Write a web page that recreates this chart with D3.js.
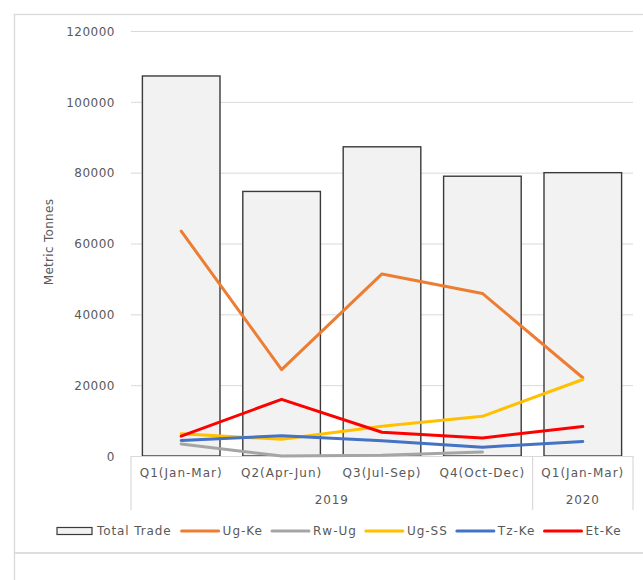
<!DOCTYPE html>
<html>
<head>
<meta charset="utf-8">
<script src="https://cdn.jsdelivr.net/npm/d3@7"></script>
<style>
  body { margin: 0; background: #fff; }
  svg { display: block; }
  text { font-family: "DejaVu Sans", sans-serif; fill: #595959; }
</style>
</head>
<body>
<svg id="chart" width="643" height="580"></svg>
<script>
// ---- data ----
const categories = ["Q1(Jan-Mar)", "Q2(Apr-Jun)", "Q3(Jul-Sep)", "Q4(Oct-Dec)", "Q1(Jan-Mar)"];
const years = ["2019", "2019", "2019", "2019", "2020"];
const yTicks = [0, 20000, 40000, 60000, 80000, 100000, 120000];
const totalTrade = [107300, 74700, 87300, 79000, 80000];
const ugKe = [63500, 24400, 51400, 45900, 22100];
const rwUg = [3400, 0, 200, 1100, null];
const ugSS = [6300, 4700, 8400, 11200, 21600];
const tzKe = [4400, 5700, 4300, 2500, 4100];
const etKe = [5600, 16000, 6700, 5100, 8300];
const seriesNames = ["Ug-Ke", "Rw-Ug", "Ug-SS", "Tz-Ke", "Et-Ke"];
const seriesValues = [ugKe, rwUg, ugSS, tzKe, etKe];
const seriesColors = ["#ED7D31", "#A5A5A5", "#FFC000", "#4472C4", "#FF0000"];

const svg = d3.select("#chart");

// frame
svg.append("rect").attr("x", 14.5).attr("y", 14.5).attr("width", 700).attr("height", 538.5)
  .attr("fill", "none").attr("stroke", "#d9d9d9").attr("stroke-width", 1.3);
svg.append("rect").attr("x", 14.5).attr("y", 553).attr("width", 700).attr("height", 60)
  .attr("fill", "none").attr("stroke", "#d9d9d9").attr("stroke-width", 1.3);

const pLeft = 131, pRight = 633, pTop = 31, pBottom = 456;
const idx = d3.range(categories.length);
const x = d3.scaleBand().domain(idx).range([pLeft, pRight]).paddingInner(0.227).paddingOuter(0.1135);
const y = d3.scaleLinear().domain([0, 120000]).range([pBottom, pTop]);

// gridlines
svg.append("g").selectAll("line").data(yTicks.filter(d => d > 0)).join("line")
  .attr("x1", pLeft).attr("x2", pRight)
  .attr("y1", d => y(d) + 0.5).attr("y2", d => y(d) + 0.5)
  .attr("stroke", "#d9d9d9").attr("stroke-width", 1);

// y axis
const yAxis = d3.axisLeft(y).tickValues(yTicks).tickSize(0).tickPadding(0).tickFormat(d3.format("d"));
const yg = svg.append("g").attr("transform", `translate(115,0)`).call(yAxis);
yg.select(".domain").remove();
yg.selectAll("text").attr("font-family", "DejaVu Sans").attr("font-size", 12)
  .attr("letter-spacing", 0.5).attr("fill", "#595959").attr("dy", "0.35em");

// y title
svg.append("text").attr("transform", "translate(53,242) rotate(-90)")
  .attr("text-anchor", "middle").attr("font-size", 12).attr("letter-spacing", 0.3)
  .text("Metric Tonnes");

// bars
svg.append("g").selectAll("rect").data(idx).join("rect")
  .attr("x", i => x(i)).attr("width", x.bandwidth())
  .attr("y", i => y(totalTrade[i])).attr("height", i => y(0) - y(totalTrade[i]))
  .attr("fill", "#f2f2f2").attr("stroke", "#3a3a3a").attr("stroke-width", 1.4);

// x axis (multi-level)
const step = x.step();
svg.append("line").attr("x1", pLeft).attr("x2", pRight).attr("y1", pBottom + 0.5).attr("y2", pBottom + 0.5)
  .attr("stroke", "#d9d9d9").attr("stroke-width", 1.2);
const yearGroups = d3.groups(idx, i => years[i]);
const boundaries = [pLeft];
yearGroups.forEach(([yr, arr]) => boundaries.push(pLeft + (arr[arr.length - 1] + 1) * step));
svg.append("g").selectAll("line").data(boundaries).join("line")
  .attr("x1", d => d).attr("x2", d => d).attr("y1", pBottom).attr("y2", 510)
  .attr("stroke", "#d9d9d9").attr("stroke-width", 1.2);

svg.append("g").selectAll("text").data(idx).join("text")
  .attr("x", i => x(i) + x.bandwidth() / 2).attr("y", 473).attr("dy", "0.35em")
  .attr("text-anchor", "middle").attr("font-size", 12).attr("letter-spacing", 1)
  .text(i => categories[i]);

svg.append("g").selectAll("text").data(yearGroups).join("text")
  .attr("x", d => pLeft + (d[1][0] + (d[1].length) / 2) * step).attr("y", 500).attr("dy", "0.35em")
  .attr("text-anchor", "middle").attr("font-size", 12).attr("letter-spacing", 0.9)
  .text(d => d[0]);

// lines
const line = d3.line()
  .defined(d => d.v !== null)
  .x(d => x(d.i) + x.bandwidth() / 2)
  .y(d => y(d.v));
seriesValues.forEach((vals, k) => {
  svg.append("path")
    .datum(vals.map((v, i) => ({ i, v })))
    .attr("d", line)
    .attr("fill", "none").attr("stroke", seriesColors[k]).attr("stroke-width", 3)
    .attr("stroke-linejoin", "round").attr("stroke-linecap", "round");
});

// legend
const lg = svg.append("g");
let lx = 57;
const ly = 531;
lg.append("rect").attr("x", lx).attr("y", ly - 3.5).attr("width", 35).attr("height", 7)
  .attr("fill", "#f2f2f2").attr("stroke", "#3a3a3a").attr("stroke-width", 1.2);
lx += 40;
let t = lg.append("text").attr("x", lx).attr("y", ly).attr("dy", "0.35em")
  .attr("font-size", 12).attr("letter-spacing", 0.9).text("Total Trade");
lx += t.node().getComputedTextLength() + 10;
seriesNames.forEach((name, k) => {
  lg.append("line").attr("x1", lx).attr("x2", lx + 37).attr("y1", ly).attr("y2", ly)
    .attr("stroke", seriesColors[k]).attr("stroke-width", 3).attr("stroke-linecap", "round");
  lx += 41;
  const tt = lg.append("text").attr("x", lx).attr("y", ly).attr("dy", "0.35em")
    .attr("font-size", 12).attr("letter-spacing", 1.0).text(name);
  lx += tt.node().getComputedTextLength() + 9;
});
</script>
</body>
</html>
